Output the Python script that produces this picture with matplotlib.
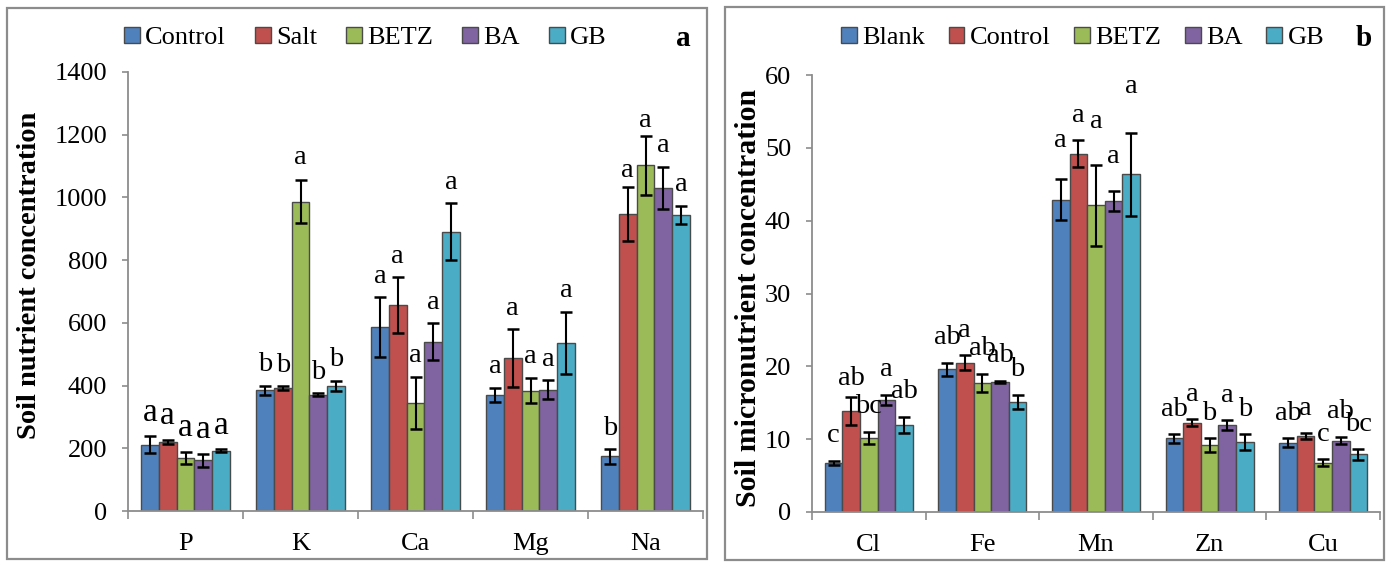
import numpy as np
import matplotlib
matplotlib.use('Agg')
import matplotlib.pyplot as plt
from matplotlib.patches import Rectangle

plt.rcParams['font.family'] = ['Liberation Serif', 'DejaVu Serif']

colors = ['#4F81BD', '#C0504D', '#9BBB59', '#8064A2', '#4BACC6']

# panel a: soil nutrients
nut_cats = ['P', 'K', 'Ca', 'Mg', 'Na']
nut_series = ['Control', 'Salt', 'BETZ', 'BA', 'GB']
nut_mean = [[211, 385, 586, 370, 174],
            [220, 392, 656, 488, 947],
            [170, 987, 344, 384, 1102],
            [162, 371, 540, 387, 1030],
            [192, 399, 891, 536, 944]]
nut_err = [[27, 15, 96, 23, 24],
           [7, 7, 89, 91, 85],
           [19, 70, 84, 41, 94],
           [21, 5, 60, 30, 68],
           [5, 17, 90, 100, 30]]
nut_letters = [['a', 'b', 'a', 'a', 'b'],
               ['a', 'b', 'a', 'a', 'a'],
               ['a', 'a', 'a', 'a', 'a'],
               ['a', 'b', 'a', 'a', 'a'],
               ['a', 'b', 'a', 'a', 'a']]

# panel b: soil micronutrients
mic_cats = ['Cl', 'Fe', 'Mn', 'Zn', 'Cu']
mic_series = ['Blank', 'Control', 'BETZ', 'BA', 'GB']
mic_mean = [[6.75, 19.6, 42.9, 10.1, 9.5],
            [13.9, 20.5, 49.2, 12.25, 10.4],
            [10.2, 17.75, 42.1, 9.2, 6.75],
            [15.4, 17.85, 42.7, 11.9, 9.8],
            [12.0, 15.1, 46.4, 9.6, 7.9]]
mic_err = [[0.3, 0.9, 2.8, 0.6, 0.6],
           [1.9, 1.0, 1.85, 0.5, 0.4],
           [0.8, 1.25, 5.6, 0.9, 0.5],
           [0.7, 0.2, 1.4, 0.7, 0.5],
           [1.1, 1.0, 5.7, 1.1, 0.7]]
mic_letters = [['c', 'ab', 'a', 'ab', 'ab'],
               ['ab', 'a', 'a', 'a', 'a'],
               ['bc', 'ab', 'a', 'b', 'c'],
               ['a', 'ab', 'a', 'a', 'ab'],
               ['ab', 'b', 'a', 'b', 'bc']]

# extra lift (points) for a few letters, keyed (series, category)
mic_lift = {(0, 2): 10, (2, 2): 13, (3, 2): 7, (4, 2): 15, (1, 0): -5}
nut_lift = {(2, 4): -4, (1, 4): -3, (2, 1): 1}

frame_col = '#8C8C8C'
W, H = 1391, 563
fig = plt.figure(figsize=(W / 100, H / 100), dpi=100)


def panel(rect, cats, series, mean, err, letters, ymax, ystep, ylabel, tag,
          leg_x, colsp, tag_x, ylab_x, ylab_y, ylab_size, gap, lift, big=None):
    ax = fig.add_axes([rect[0] / W, 1 - rect[3] / H, (rect[2] - rect[0]) / W,
                       (rect[3] - rect[1]) / H])
    x = np.arange(len(cats))
    bw = 0.155
    for s in range(len(series)):
        pos = x + (s - 2) * bw
        ax.bar(pos, mean[s], bw, color=colors[s], edgecolor='#4a4a4a',
               linewidth=1.0, label=series[s], zorder=2)
        ax.errorbar(pos, mean[s], yerr=err[s], fmt='none', ecolor='black',
                    elinewidth=1.5, capsize=4.5, capthick=1.8, zorder=3)
        for i in range(len(cats)):
            size = 20.5
            if big is not None and i == big:
                size = 24
            dy = gap + lift.get((s, i), 0)
            ax.annotate(letters[s][i], (pos[i], mean[s][i] + err[s][i]),
                        xytext=(0, dy), textcoords='offset points',
                        ha='center', va='bottom', fontsize=size)
    ax.set_xlim(-0.5, len(cats) - 0.5)
    ax.set_ylim(0, ymax)
    ax.set_yticks(np.arange(0, ymax + 1, ystep))
    ax.set_xticks(np.arange(-0.5, len(cats), 1.0))
    ax.set_xticklabels([])
    ax.set_xticks(x, minor=True)
    ax.set_xticklabels(cats, minor=True)
    ax.tick_params(axis='x', which='major', direction='out', length=6,
                   width=1.2, color=frame_col)
    ax.tick_params(axis='x', which='minor', length=0, pad=16, labelsize=19)
    ax.tick_params(axis='y', direction='out', length=4, width=1.2,
                   color=frame_col, pad=11, labelsize=19)
    for sp in ['top', 'right']:
        ax.spines[sp].set_visible(False)
    for sp in ['left', 'bottom']:
        ax.spines[sp].set_color(frame_col)
        ax.spines[sp].set_linewidth(1.3)
    fig.text(ylab_x / W, 1 - ylab_y / H, ylabel,
             rotation=90, ha='center', va='center', fontsize=ylab_size,
             fontweight='bold')
    leg = fig.legend(*ax.get_legend_handles_labels(), loc='center left',
                     bbox_to_anchor=(leg_x / W, 1 - 38 / H), ncol=5,
                     frameon=False, fontsize=19, handlelength=0.6,
                     handleheight=0.6, handletextpad=0.2, columnspacing=colsp,
                     borderpad=0, borderaxespad=0)
    for h in leg.legend_handles:
        h.set_edgecolor('#4a4a4a')
    fig.text(tag_x / W, 1 - 38 / H, tag, ha='center', va='center',
             fontsize=21, fontweight='bold')
    return ax


# outer frames of both panels
fig.patches.append(Rectangle((7 / W, 1 - 559 / H), 700 / W, 551 / H,
                             transform=fig.transFigure, fill=False,
                             edgecolor=frame_col, linewidth=1.6))
fig.patches.append(Rectangle((725 / W, 1 - 560 / H), 659 / W, 553 / H,
                             transform=fig.transFigure, fill=False,
                             edgecolor=frame_col, linewidth=1.6))

panel((128, 72, 703, 511), nut_cats, nut_series, nut_mean, nut_err,
      nut_letters, 1400, 200, 'Soil nutrient concentration', 'a',
      124, 1.1, 683, 30, 275, 20.5, 6, nut_lift, big=0)
panel((812, 75, 1380, 512), mic_cats, mic_series, mic_mean, mic_err,
      mic_letters, 60, 10, 'Soil micronutrient concentration', 'b',
      841, 0.9, 1364, 749, 298, 21.5, 9, mic_lift)

fig.savefig('out.png', dpi=100)
